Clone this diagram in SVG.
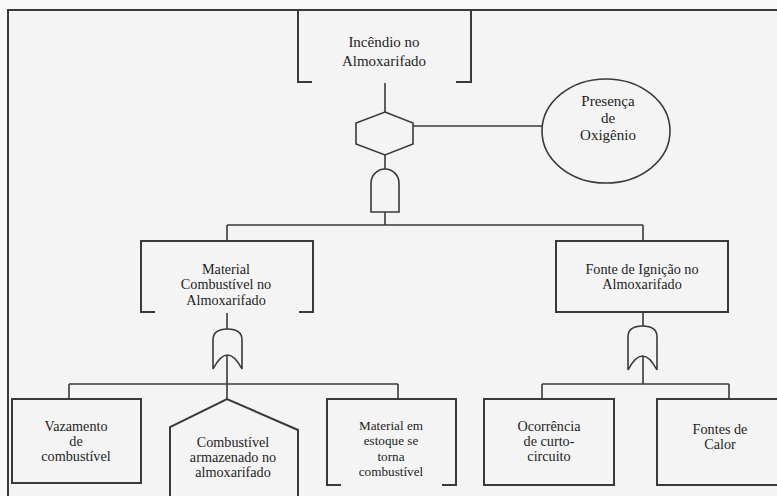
<svg xmlns="http://www.w3.org/2000/svg" width="777" height="496" viewBox="0 0 777 496">
  <style>
    .ln { fill: none; stroke: #3a3a3a; stroke-width: 1.6; }
    .bx { fill: none; stroke: #3a3a3a; stroke-width: 2; }
    .gate { fill: #f4f4f4; stroke: #3a3a3a; stroke-width: 1.6; }
    .lbl text { fill: #1e1e1e; text-anchor: middle; }
    .t15 { font-size: 15px; }
    .t14 { font-size: 14.2px; }
    .t13 { font-size: 13.2px; }
  </style>

  <!-- page and frame -->
  <rect x="0" y="0" width="777" height="496" fill="#f8f8f8"/>
  <rect x="8" y="10" width="769" height="486" fill="#f4f4f4"/>
  <path class="bx" d="M8,496 L8,10 L777,10"/>

  <!-- connectors -->
  <g id="connectors">
    <path class="ln" d="M385,83 L385,112"/>
    <path class="ln" d="M413,126 L542,126"/>
    <path class="ln" d="M385,155 L385,169"/>
    <path class="ln" d="M385,212 L385,225 M227,225 L643,225 M227,225 L227,241 M643,225 L643,241"/>
    <path class="ln" d="M227,313 L227,329 M227,355 L227,384 M69,384 L398,384 M69,384 L69,399 M227,384 L227,399 M398,384 L398,399"/>
    <path class="ln" d="M643,312 L643,326 M643,355 L643,384 M542,384 L729,384 M542,384 L542,399 M729,384 L729,399"/>
  </g>

  <g class="lbl" font-family="Liberation Serif, DejaVu Serif, Times New Roman, serif">
    <!-- top event -->
    <g id="incendio">
      <path class="bx" d="M312,82 L298,82 L298,10 L471,10 L471,82 L456,82"/>
      <text class="t15" x="384" y="47">Incêndio no</text>
      <text class="t15" x="384" y="66">Almoxarifado</text>
    </g>

    <!-- conditioning (inhibit) gate -->
    <g id="inhibit-gate">
      <polygon class="gate" points="385,112 413,123 413,144 385,155 356,144 356,123"/>
    </g>

    <g id="oxigenio">
      <ellipse class="gate" cx="606" cy="131" rx="64" ry="52"/>
      <text class="t15" x="608" y="106">Presença</text>
      <text class="t15" x="608" y="123">de</text>
      <text class="t15" x="608" y="140">Oxigênio</text>
    </g>

    <g id="and-gate">
      <path class="gate" d="M371,212 L371,183 A14,14 0 0 1 399,183 L399,212 Z"/>
    </g>

    <!-- intermediate events -->
    <g id="material-combustivel">
      <path class="bx" d="M155,312 L141,312 L141,241 L313,241 L313,312 L299,312"/>
      <text class="t14" x="226" y="274">Material</text>
      <text class="t14" x="226" y="289">Combustível no</text>
      <text class="t14" x="226" y="305">Almoxarifado</text>
    </g>

    <g id="fonte-ignicao">
      <rect class="bx" x="556" y="241" width="172" height="71"/>
      <text class="t14" x="642" y="274">Fonte de Ignição no</text>
      <text class="t14" x="642" y="289">Almoxarifado</text>
    </g>

    <g id="or-gate-left">
      <path class="gate" d="M213,369 L213,340 Q213,329 227.5,329 Q242,329 242,340 L242,369 Q227.5,341 213,369 Z"/>
    </g>

    <g id="or-gate-right">
      <path class="gate" d="M628,370 L628,337 Q628,326 642.5,326 Q657,326 657,337 L657,370 Q642.5,342 628,370 Z"/>
    </g>

    <!-- basic and undeveloped events -->
    <g id="vazamento">
      <rect class="bx" x="12" y="399" width="129" height="84"/>
      <text class="t14" x="76" y="431">Vazamento</text>
      <text class="t14" x="76" y="446">de</text>
      <text class="t14" x="76" y="461">combustível</text>
    </g>

    <g id="combustivel-armazenado">
      <path class="bx" d="M170,497 L170,427 L227,399 L298,430 L298,497"/>
      <text class="t14" x="233" y="447">Combustível</text>
      <text class="t14" x="233" y="462">armazenado no</text>
      <text class="t14" x="233" y="477">almoxarifado</text>
    </g>

    <g id="material-estoque">
      <path class="bx" d="M341,485 L327,485 L327,399 L456,399 L456,485 L442,485"/>
      <text class="t13" x="391" y="430">Material em</text>
      <text class="t13" x="391" y="445">estoque se</text>
      <text class="t13" x="391" y="461">torna</text>
      <text class="t13" x="391" y="476">combustível</text>
    </g>

    <g id="curto-circuito">
      <rect class="bx" x="484" y="399" width="130" height="86"/>
      <text class="t14" x="549" y="431">Ocorrência</text>
      <text class="t14" x="549" y="446">de curto-</text>
      <text class="t14" x="549" y="461">circuito</text>
    </g>

    <g id="fontes-calor">
      <rect class="bx" x="657" y="399" width="128" height="86"/>
      <text class="t14" x="720" y="434">Fontes de</text>
      <text class="t14" x="720" y="449">Calor</text>
    </g>
  </g>
</svg>
